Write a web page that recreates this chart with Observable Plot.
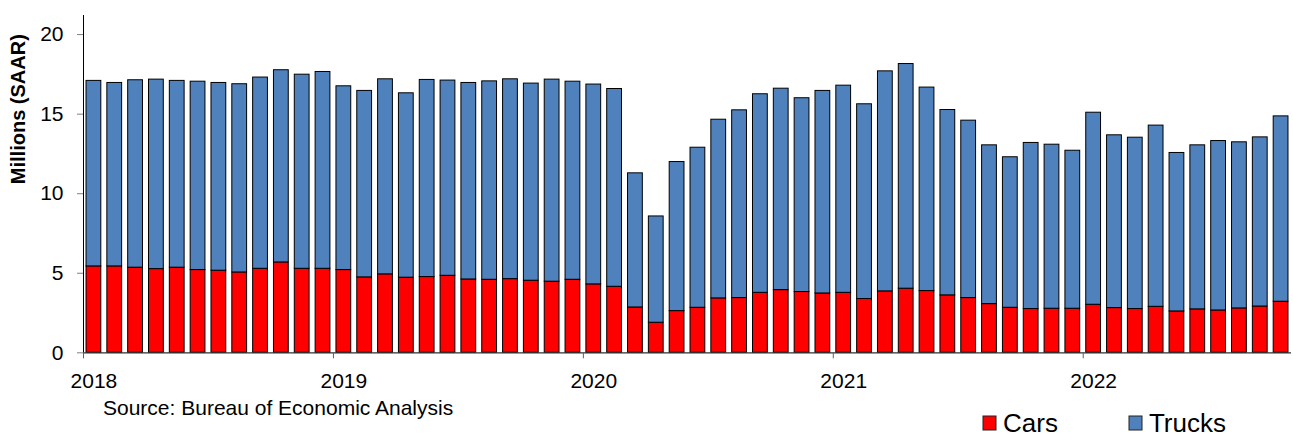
<!DOCTYPE html>
<html>
<head>
<meta charset="utf-8">
<script src="https://cdn.jsdelivr.net/npm/d3@7"></script>
<script src="https://cdn.jsdelivr.net/npm/@observablehq/plot@0.6"></script>
<style>
  html, body { margin: 0; padding: 0; background: #fff; }
  #chart {
    position: relative; width: 1293px; height: 437px; overflow: hidden;
    font-family: "Liberation Sans", Arial, sans-serif; color: #000; background: #fff;
  }
  #title {
    position: absolute; left: 0; width: 1293px; top: -18.4px;
    text-align: center; font-size: 20px; line-height: 20px; font-weight: bold;
  }
  #plot { position: absolute; left: 0; top: 0; }
  #plot [aria-label^="y-axis"] { color: #808080; }
  #plot [aria-label^="y-axis"] text { fill: #000; }
  #source { position: absolute; left: 103px; top: 396px; font-size: 21px; line-height: 24px; white-space: nowrap; }
  #legend { position: absolute; left: 983px; top: 408px; }
  #legend > div {
    margin: 0 !important; min-height: 0 !important; display: flex !important; align-items: center;
    font: 26px/30px "Liberation Sans", Arial, sans-serif !important; color: #000;
  }
  #legend span { margin: 0 !important; display: inline-flex; align-items: center; }
  #legend span + span { margin-left: 71px !important; }
  #legend svg { margin-right: 7px !important; overflow: visible; }
  #legend svg rect { stroke: #222; stroke-width: 1; }
</style>
</head>
<body>
<div id="chart">
  <div id="title">Light Vehicle Sales</div>
  <div id="plot"></div>
  <div id="source">Source: Bureau of Economic Analysis</div>
  <div id="legend"></div>
</div>
<script>
// Monthly light vehicle sales, seasonally adjusted annual rate (millions), Jan 2018 – Oct 2022
const months = d3.utcMonth
  .range(new Date(Date.UTC(2018, 0, 1)), new Date(Date.UTC(2022, 10, 1)))
  .map(d => d3.utcFormat("%Y-%m")(d));

const cars = [
  5.43, 5.43, 5.35, 5.26, 5.35, 5.20, 5.16, 5.05, 5.28, 5.68, 5.28, 5.28,
  5.20, 4.74, 4.93, 4.72, 4.76, 4.84, 4.61, 4.59, 4.63, 4.53, 4.47, 4.59,
  4.30, 4.15, 2.85, 1.89, 2.62, 2.83, 3.42, 3.44, 3.77, 3.94, 3.82, 3.73,
  3.77, 3.38, 3.86, 4.03, 3.88, 3.61, 3.44, 3.06, 2.83, 2.75, 2.77, 2.77,
  3.02, 2.81, 2.75, 2.89, 2.60, 2.73, 2.66, 2.79, 2.91, 3.21
];

const trucks = [
  11.66, 11.53, 11.78, 11.91, 11.74, 11.84, 11.80, 11.83, 12.02, 12.08, 12.20, 12.37,
  11.55, 11.72, 12.26, 11.59, 12.39, 12.27, 12.35, 12.47, 12.56, 12.39, 12.70, 12.45,
  12.56, 12.43, 8.43, 6.68, 9.37, 10.06, 11.23, 11.80, 12.48, 12.66, 12.18, 12.73,
  13.02, 12.24, 13.83, 14.12, 12.79, 11.65, 11.15, 9.98, 9.46, 10.44, 10.31, 9.93,
  12.07, 10.86, 10.77, 11.39, 9.96, 10.31, 10.65, 10.44, 10.63, 11.65
];

const types = ["Cars", "Trucks"];
const colors = ["#ff0000", "#4f81bd"];
const yearLabels = ["2018", "2019", "2020", "2021", "2022"];
const yTicks = [0, 5, 10, 15, 20];

const rows = months.flatMap((m, i) => [
  {month: m, type: "Cars", value: cars[i]},
  {month: m, type: "Trucks", value: trucks[i]}
]);
const januaries = months.filter(m => m.endsWith("-01"));

const W = 1293, H = 392;
const marginLeft = 83, marginRight = 2, marginTop = 15, marginBottom = 39.7;
const yMax = 21.2;
const step = (W - marginLeft - marginRight) / months.length;
const font = '"Liberation Sans", Arial, sans-serif';

const plot = Plot.plot({
  width: W,
  height: H,
  marginLeft, marginRight, marginTop, marginBottom,
  style: {fontFamily: font, fontSize: "21px", color: "#000", background: "#fff", overflow: "visible"},
  x: {
    type: "band", domain: months, paddingInner: 0.29, paddingOuter: 0.145, align: 0.5,
    ticks: januaries, tickSize: 0, tickPadding: 20, label: null,
    tickFormat: d => (januaries.includes(d) ? yearLabels[januaries.indexOf(d)] : "")
  },
  y: {domain: [0, yMax], ticks: yTicks, tickSize: 6, tickPadding: 14, line: true, label: null},
  color: {domain: types, range: colors},
  marks: [
    Plot.barY(rows, {x: "month", y: "value", fill: "type", order: types, stroke: "#000", strokeWidth: 1}),
    Plot.ruleY([0], {stroke: "#303030", strokeWidth: 1.2}),
    // year boundary ticks below the baseline
    Plot.ruleX(januaries, {x: d => d, y1: 0, y2: 0, insetBottom: -6, dx: -step / 2, stroke: "#606060"}),
    Plot.text(["Millions (SAAR)"], {
      frameAnchor: "left", rotate: -90, dx: -65,
      fontWeight: "bold", fontSize: 20, fill: "#000"
    })
  ]
});
document.getElementById("plot").appendChild(plot);

const legend = plot.legend("color", {swatchWidth: 13, swatchHeight: 14});
document.getElementById("legend").appendChild(legend);
</script>
</body>
</html>
